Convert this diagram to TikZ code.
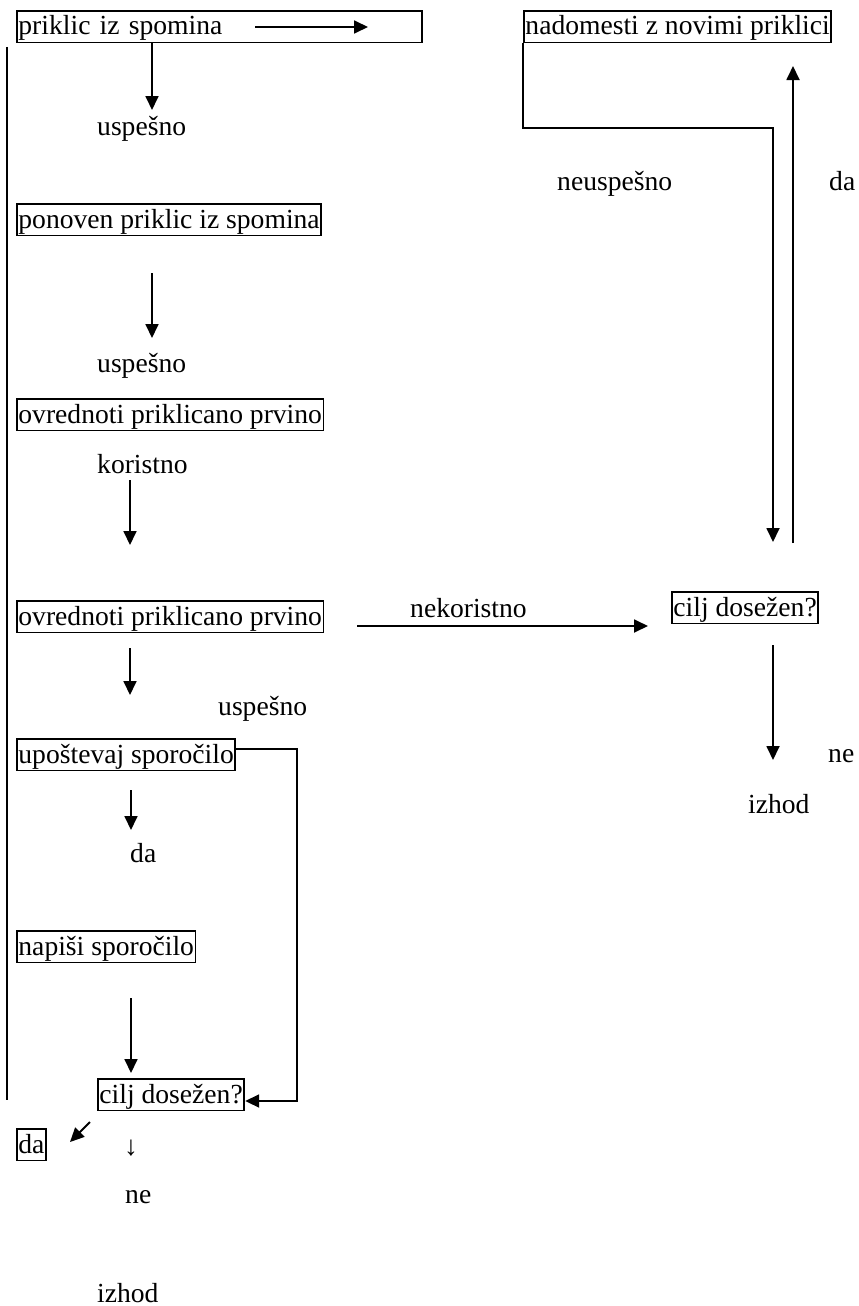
\documentclass[tikz,border=0pt]{standalone}
\usepackage{fontspec}
\setmainfont{Liberation Serif}
\usetikzlibrary{arrows.meta}
\begin{document}
\begin{tikzpicture}[x=1pt,y=-1pt,
  every node/.style={font=\fontsize{27.6}{33}\selectfont, inner sep=0pt, anchor=base west},
  box/.style={draw, line width=1.9pt, inner xsep=1.5pt, inner ysep=0pt, text height=24pt, text depth=7.5pt},
  conn/.style={line width=1.8pt},
  arr/.style={conn, -{Triangle[width=13pt,length=14pt]}}]
\useasboundingbox (0,0) rectangle (859,1306);
% boxes
\node[box, text width=402pt, align=left] (A) at (16,35) {priklic iz spomina};
\node[box] (B) at (16,228) {ponoven priklic iz spomina};
\node[box] (C) at (16,423) {ovrednoti priklicano prvino};
\node[box] (D) at (16,625) {ovrednoti priklicano prvino};
\node[box] (F) at (16,763) {upoštevaj sporočilo};
\node[box] (G) at (16,955) {napiši sporočilo};
\node[box] (H) at (97,1103) {cilj dosežen?};
\node[box] (Y) at (16,1153) {da};
\node[box] (E) at (523,35) {nadomesti z novimi priklici};
\node[box] (R) at (671,616) {cilj dosežen?};
% labels
\node (u1) at (97,135) {uspešno};
\node (u2) at (97,372) {uspešno};
\node (k) at (97,473) {koristno};
\node (nk) at (410,617) {nekoristno};
\node (u3) at (218,715) {uspešno};
\node (da1) at (130,862) {da};
\node (dn) at (124,1155) {↓};
\node (ne1) at (125,1203) {ne};
\node (iz1) at (97,1302) {izhod};
\node (neu) at (557,190) {neuspešno};
\node (da2) at (829,190) {da};
\node (ne2) at (828,762) {ne};
\node (iz2) at (748,813) {izhod};
% coordinates
\coordinate (ain1) at (255,27);
\coordinate (ain2) at (368,27);
\coordinate (l1) at (7,47);
\coordinate (l2) at (7,1100);
\coordinate (a1) at (152,110);
\coordinate (b1) at (152,273);
\coordinate (b2) at (152,338);
\coordinate (c1) at (130,480);
\coordinate (c2) at (130,545);
\coordinate (d1) at (357,626);
\coordinate (d2) at (648,626);
\coordinate (d3) at (130,648);
\coordinate (d4) at (130,695);
\coordinate (f1) at (131,790);
\coordinate (f2) at (131,830);
\coordinate (fy) at (0,749);
\coordinate (f3) at (297,749);
\coordinate (f4) at (297,1101);
\coordinate (hy) at (0,1101);
\coordinate (g1) at (131,998);
\coordinate (g2) at (131,1073);
\coordinate (h1) at (90,1122);
\coordinate (h2) at (70,1142);
\coordinate (e1) at (523,128);
\coordinate (e2) at (773,128);
\coordinate (e3) at (773,542);
\coordinate (r1) at (793,543);
\coordinate (r2) at (793,66);
\coordinate (r3) at (773,645);
\coordinate (r4) at (773,760);
% connectors
\draw[arr] (ain1) -- (ain2);
\draw[conn] (l1) -- (l2);
\draw[arr] (A.south -| a1) -- (a1);
\draw[arr] (b1) -- (b2);
\draw[arr] (c1) -- (c2);
\draw[arr] (d1) -- (d2);
\draw[arr] (d3) -- (d4);
\draw[arr] (f1) -- (f2);
\draw[arr] (F.east |- fy) -- (f3) -- (f4) -- (H.east |- hy);
\draw[arr] (g1) -- (g2);
\draw[arr] (h1) -- (h2);
\draw[arr] (E.south west) -- (e1) -- (e2) -- (e3);
\draw[arr] (r1) -- (r2);
\draw[arr] (r3) -- (r4);
\end{tikzpicture}
\end{document}
